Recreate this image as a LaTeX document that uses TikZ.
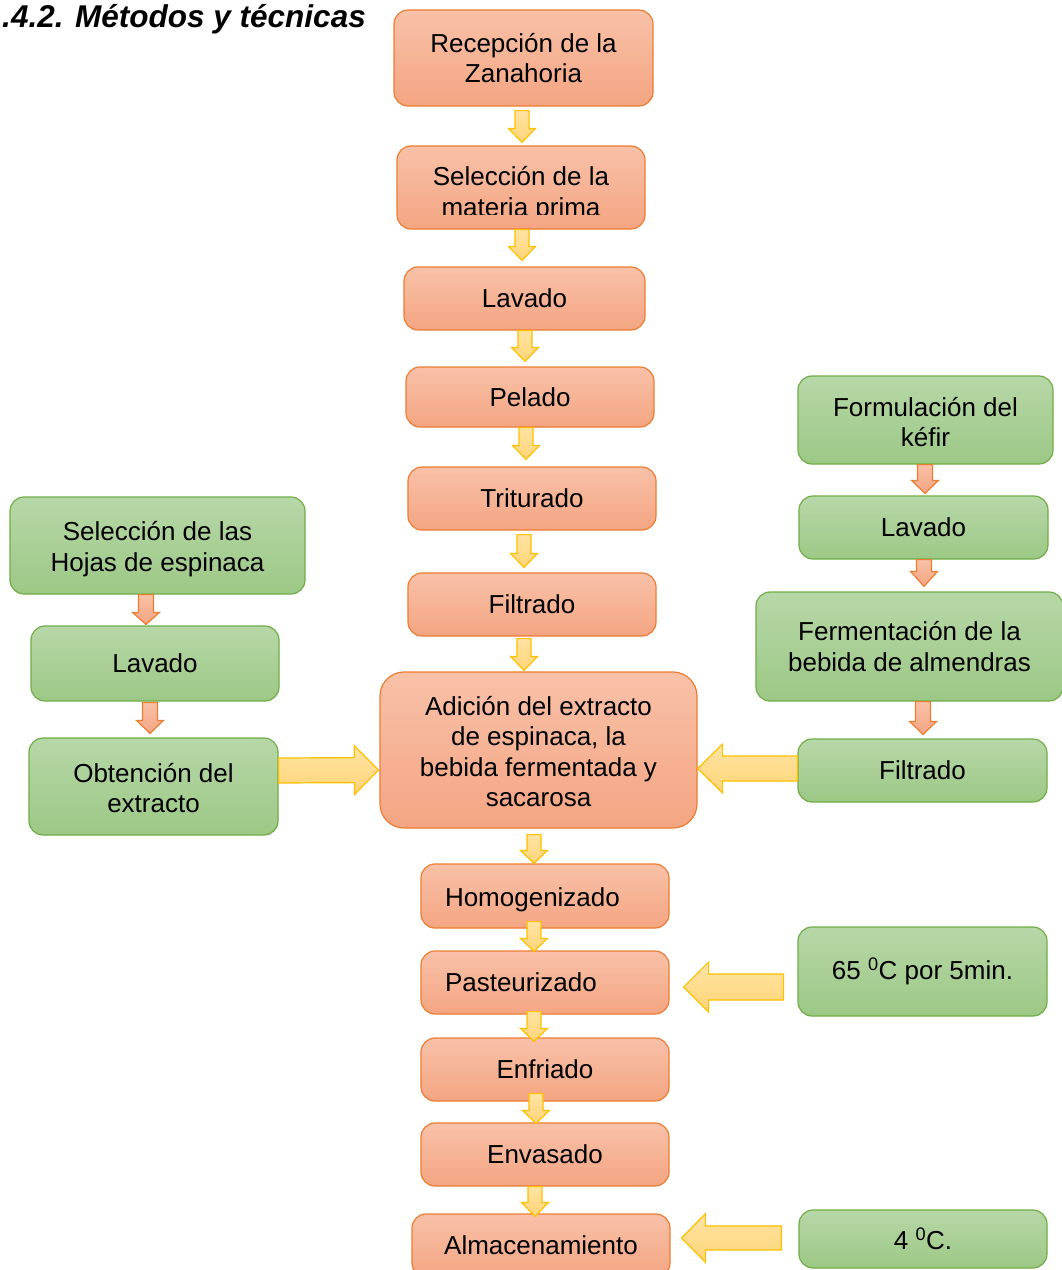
\documentclass[tikz,border=0pt]{standalone}
\usepackage{fontspec}
\setmainfont{Liberation Sans}
\usetikzlibrary{calc}
\definecolor{obord}{RGB}{237,125,49}
\definecolor{otop}{RGB}{248,193,168}
\definecolor{obot}{RGB}{244,165,130}
\definecolor{gbord}{RGB}{112,173,71}
\definecolor{gtop}{RGB}{183,215,168}
\definecolor{gbot}{RGB}{156,200,133}
\definecolor{ybord}{RGB}{255,192,0}
\definecolor{ytop}{RGB}{255,228,165}
\definecolor{ybot}{RGB}{255,212,118}
\newcommand\barrow[6]{%
  \coordinate (ba) at #2;
  \coordinate (bb) at #3;
  \coordinate (bh) at ($(bb)!#6!(ba)$);
  \draw[#1] ($(ba)!#4!90:(bb)$) -- ($(bh)!#4!90:(bb)$) -- ($(bh)!#5!90:(bb)$) -- (bb)
    -- ($(bh)!#5!-90:(bb)$) -- ($(bh)!#4!-90:(bb)$) -- ($(ba)!#4!-90:(bb)$) -- cycle;
}
\newcommand\dn[1]{\rule{0pt}{#1}}
\tikzset{
  boxbase/.style={line width=1.2pt, inner sep=0pt, align=center, text=black,
    font=\fontsize{26}{30.5}\selectfont},
  ob/.style={boxbase, draw=obord, rounded corners=14pt, top color=otop, bottom color=obot},
  gb/.style={boxbase, draw=gbord, rounded corners=14pt, top color=gtop, bottom color=gbot},
  txt/.style={inner sep=0pt, align=center, text=black, font=\fontsize{26}{30.5}\selectfont},
  yarr/.style={draw=ybord, line width=1.2pt, top color=ytop, bottom color=ybot, line join=miter},
  oarr/.style={draw=obord, line width=1.2pt, top color=otop, bottom color=obot, line join=miter},
}
\begin{document}
\begin{tikzpicture}[x=1pt,y=-1pt]
\useasboundingbox (0,0) rectangle (1062,1270);
\clip (0,0) rectangle (1062,1270);

\node[anchor=base east, inner sep=0pt, font=\fontsize{31.5}{36}\selectfont\bfseries\itshape] (title) at (366,27) {.4.2. Métodos y técnicas};

% central column
\node[ob, minimum width=259pt, minimum height=96pt] (rec) at (523.5,58) {Recepción de la\\Zanahoria};
\node[ob, minimum width=248pt, minimum height=83pt] (sel) at (521,187.5) {};
\begin{scope}
  \clip (sel.north west) rectangle ($(sel.east)+(0,26.5)$);
  \node[txt] (selt) at (521,194) {Selección de la\\materia prima};
\end{scope}
\node[ob, minimum width=241pt, minimum height=63pt] (lav) at (524.5,298.5) {Lavado};
\node[ob, minimum width=248pt, minimum height=60pt] (pel) at (530,397) {Pelado};
\node[ob, minimum width=248pt, minimum height=63pt] (trit) at (532,498.5) {Triturado};
\node[ob, minimum width=248pt, minimum height=63pt] (filt) at (532,604.5) {Filtrado};
\node[ob, rounded corners=24pt, minimum width=317pt, minimum height=156pt] (adi) at (538.5,750) {\dn{22pt}Adición del extracto\\de espinaca, la\\bebida fermentada y\\sacarosa};
\node[ob, minimum width=248pt, minimum height=64pt, inner xsep=24pt, text width=200pt, align=left] (hom) at (545,896) {\dn{26pt}Homogenizado};
\node[ob, minimum width=248pt, minimum height=63pt, inner xsep=24pt, text width=200pt, align=left] (past) at (545,982.5) {Pasteurizado};
\node[ob, minimum width=248pt, minimum height=63pt] (enf) at (545,1069.5) {Enfriado};
\node[ob, minimum width=248pt, minimum height=63pt] (env) at (545,1154.5) {Envasado};
\node[ob, minimum width=258pt, minimum height=63pt] (alm) at (541,1245.5) {Almacenamiento};

% right column
\node[gb, minimum width=255pt, minimum height=88pt] (form) at (925.5,420) {\dn{23.5pt}Formulación del\\kéfir};
\node[gb, minimum width=249pt, minimum height=63pt] (lavr) at (923.5,527.5) {Lavado};
\node[gb, minimum width=307pt, minimum height=109pt] (ferm) at (909.5,646.5) {Fermentación de la\\bebida de almendras};
\node[gb, minimum width=249pt, minimum height=63pt] (filr) at (922.5,770.5) {Filtrado};
\node[gb, minimum width=249pt, minimum height=89pt] (temp) at (922.5,971.5) {65 \textsuperscript{0}C por 5min.};
\node[gb, minimum width=248pt, minimum height=58pt] (cold) at (923,1239) {4 \textsuperscript{0}C.};

% left column
\node[gb, minimum width=295pt, minimum height=97pt] (hoj) at (157.5,545.5) {\dn{26pt}Selección de las\\Hojas de espinaca};
\node[gb, minimum width=248pt, minimum height=75pt] (lavl) at (155,663.5) {Lavado};
\node[gb, minimum width=249pt, minimum height=97pt] (obt) at (153.5,786.5) {\dn{22pt}Obtención del\\extracto};

% small yellow arrows (central column)
\barrow{yarr}{($(rec.south)+(-1.5,4)$)}{($(sel.north)+(1,-3)$)}{7pt}{13.5pt}{14pt}
\barrow{yarr}{($(sel.south)+(1,0)$)}{($(lav.north)+(-2.5,-6)$)}{7pt}{13.5pt}{14pt}
\barrow{yarr}{($(lav.south)+(0.5,0)$)}{($(pel.north)+(-5,-5)$)}{7pt}{13.5pt}{14pt}
\barrow{yarr}{($(pel.south)+(-4,0)$)}{($(trit.north)+(-6,-7)$)}{7pt}{13.5pt}{14pt}
\barrow{yarr}{($(trit.south)+(-8,4)$)}{($(filt.north)+(-8,-5)$)}{7pt}{13.5pt}{14pt}
\barrow{yarr}{($(filt.south)+(-8,2)$)}{($(adi.north)+(-14.5,-1)$)}{7pt}{13.5pt}{14pt}
\barrow{yarr}{($(adi.south)+(-4.5,6)$)}{($(hom.north)+(-11,0)$)}{7pt}{13.5pt}{13pt}
\barrow{yarr}{($(hom.south)+(-11,-7)$)}{($(past.north)+(-11,1)$)}{7pt}{13.5pt}{13pt}
\barrow{yarr}{($(past.south)+(-11,-3)$)}{($(enf.north)+(-11,4)$)}{7pt}{13.5pt}{13pt}
\barrow{yarr}{($(enf.south)+(-9,-8)$)}{($(env.north)+(-9,1)$)}{7pt}{13.5pt}{13pt}
\barrow{yarr}{($(env.south)+(-10,0)$)}{($(alm.north)+(-6,3)$)}{7pt}{13.5pt}{14pt}

% small orange arrows (side columns)
\barrow{oarr}{($(hoj.south)+(-11.5,0)$)}{($(lavl.north)+(-9,-1)$)}{7.5pt}{13.5pt}{12pt}
\barrow{oarr}{($(lavl.south)+(-5,1)$)}{($(obt.north)+(-3.5,-4)$)}{7.5pt}{13.5pt}{13pt}
\barrow{oarr}{($(form.south)+(-0.5,0)$)}{($(lavr.north)+(1.5,-2)$)}{7.5pt}{13.5pt}{13pt}
\barrow{oarr}{($(lavr.south)+(0.5,0)$)}{($(ferm.north)+(14.5,-5)$)}{7.5pt}{13.5pt}{15pt}
\barrow{oarr}{($(ferm.south)+(13.5,0)$)}{($(filr.north)+(0.5,-4)$)}{7.5pt}{13.5pt}{13pt}

% large yellow arrows
\barrow{yarr}{($(obt.east)+(0,-16)$)}{($(adi.west)+(-1,20)$)}{12.5pt}{24.5pt}{24pt}
\barrow{yarr}{($(filr.west)+(0,-2)$)}{($(adi.east)+(0,18.5)$)}{12.5pt}{24.5pt}{25pt}
\barrow{yarr}{($(temp.west)+(-14,15.5)$)}{($(past.east)+(14,4.5)$)}{13pt}{25pt}{25pt}
\barrow{yarr}{($(cold.west)+(-17,-1)$)}{($(alm.east)+(11,-7.5)$)}{12pt}{24.5pt}{24pt}
\end{tikzpicture}
\end{document}
